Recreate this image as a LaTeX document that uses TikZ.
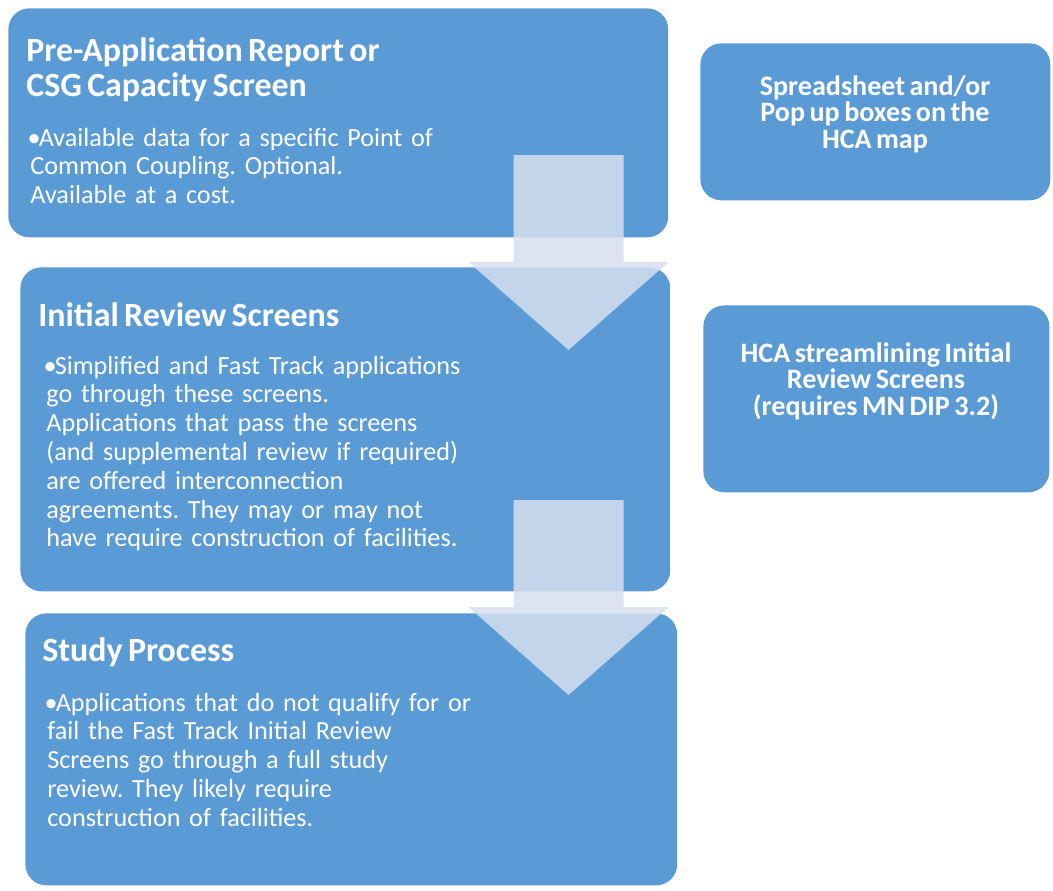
\documentclass[tikz,border=0pt]{standalone}
\usepackage{fontspec}
\setmainfont{Carlito}[WordSpace={0.7,0,0}]
\usepackage{tikz}
\usetikzlibrary{positioning}

\definecolor{boxblue}{RGB}{91,155,213}
\definecolor{flowtint}{RGB}{214,224,240}

% small bullet with the text set close to it
\newcommand{\dotmark}{\makebox[4.8pt][l]{\kern-1.6pt•}}

\begin{document}
\frenchspacing
\begin{tikzpicture}[x=0.02cm, y=-0.02cm,
  stage/.style={rounded corners=0.42cm, fill=boxblue, draw=none, inner sep=0pt, anchor=north west},
  heading/.style={text=white, font=\bfseries\fontsize{19.3}{19.8}\selectfont, align=left, inner sep=0pt, anchor=base west},
  detail/.style={text=white, font=\fontsize{14.9}{16.4}\selectfont, text width=10cm, align=left, inner sep=0pt, anchor=base west},
  side/.style={text=white, font=\bfseries\fontsize{16}{15}\selectfont, align=center, inner sep=0pt, anchor=base},
  flow/.style={fill=flowtint, fill opacity=0.85}]

\useasboundingbox[fill=white] (0,0) rectangle (1053,890);

% Process stages
\node[stage, minimum width=13.2cm, minimum height=4.58cm] (pre) at (8,8) {};
\node[stage, minimum width=13.0cm, minimum height=6.48cm] (initial) at (20,267) {};
\node[stage, minimum width=13.04cm, minimum height=5.44cm] (study) at (25,613) {};

% Side notes
\node[stage, minimum width=7.0cm, minimum height=3.14cm] (sheet) at (700,43) {};
\node[stage, minimum width=6.92cm, minimum height=3.74cm] (stream) at (703,305) {};

% Stage texts (headings sit on the baseline of their last line)
\node[heading] (pretitle) at (26,96) {Pre-Application Report or\\CSG Capacity Screen};
\node[detail] (pretext) at (30,146) {\hangindent=2.3pt\hangafter=1
  \dotmark Available data for a specific Point of\\
  Common Coupling. Optional.\\
  Available at a cost.};

\node[heading] (initialtitle) at (38,326) {Initial Review Screens};
\node[detail] (initialtext) at (46,374) {\hangindent=2.3pt\hangafter=1
  \dotmark Simplified and Fast Track applications\\
  go through these screens.\\
  Applications that pass the screens\\
  (and supplemental review if required)\\
  are offered interconnection\\
  agreements. They may or may not\\
  have require construction of facilities.};

\node[heading] (studytitle) at (42,661) {Study Process};
\node[detail] (studytext) at (47,711) {\hangindent=2.3pt\hangafter=1
  \dotmark Applications that do not qualify for or\\
  fail the Fast Track Initial Review\\
  Screens go through a full study\\
  review. They likely require\\
  construction of facilities.};

% Side note texts
\node[side] (sheettext) at (875,148) {Spreadsheet and/or\\Pop up boxes on the\\HCA map};
\node[side] (streamtext) at (876,415) {HCA streamlining Initial\\Review Screens\\(requires MN DIP 3.2)};

% Block arrows between stages
\foreach \ytop/\ylabel in {155/pre, 500/initial} {
  \coordinate (\ylabel arrow) at (568.5,\ytop);
  \fill[flow] (\ylabel arrow) ++(-55,0) -- ++(110,0) -- ++(0,107) -- ++(45,0)
    -- ++(-100,88) -- ++(-100,-88) -- ++(45,0) -- cycle;
}

\end{tikzpicture}
\end{document}
